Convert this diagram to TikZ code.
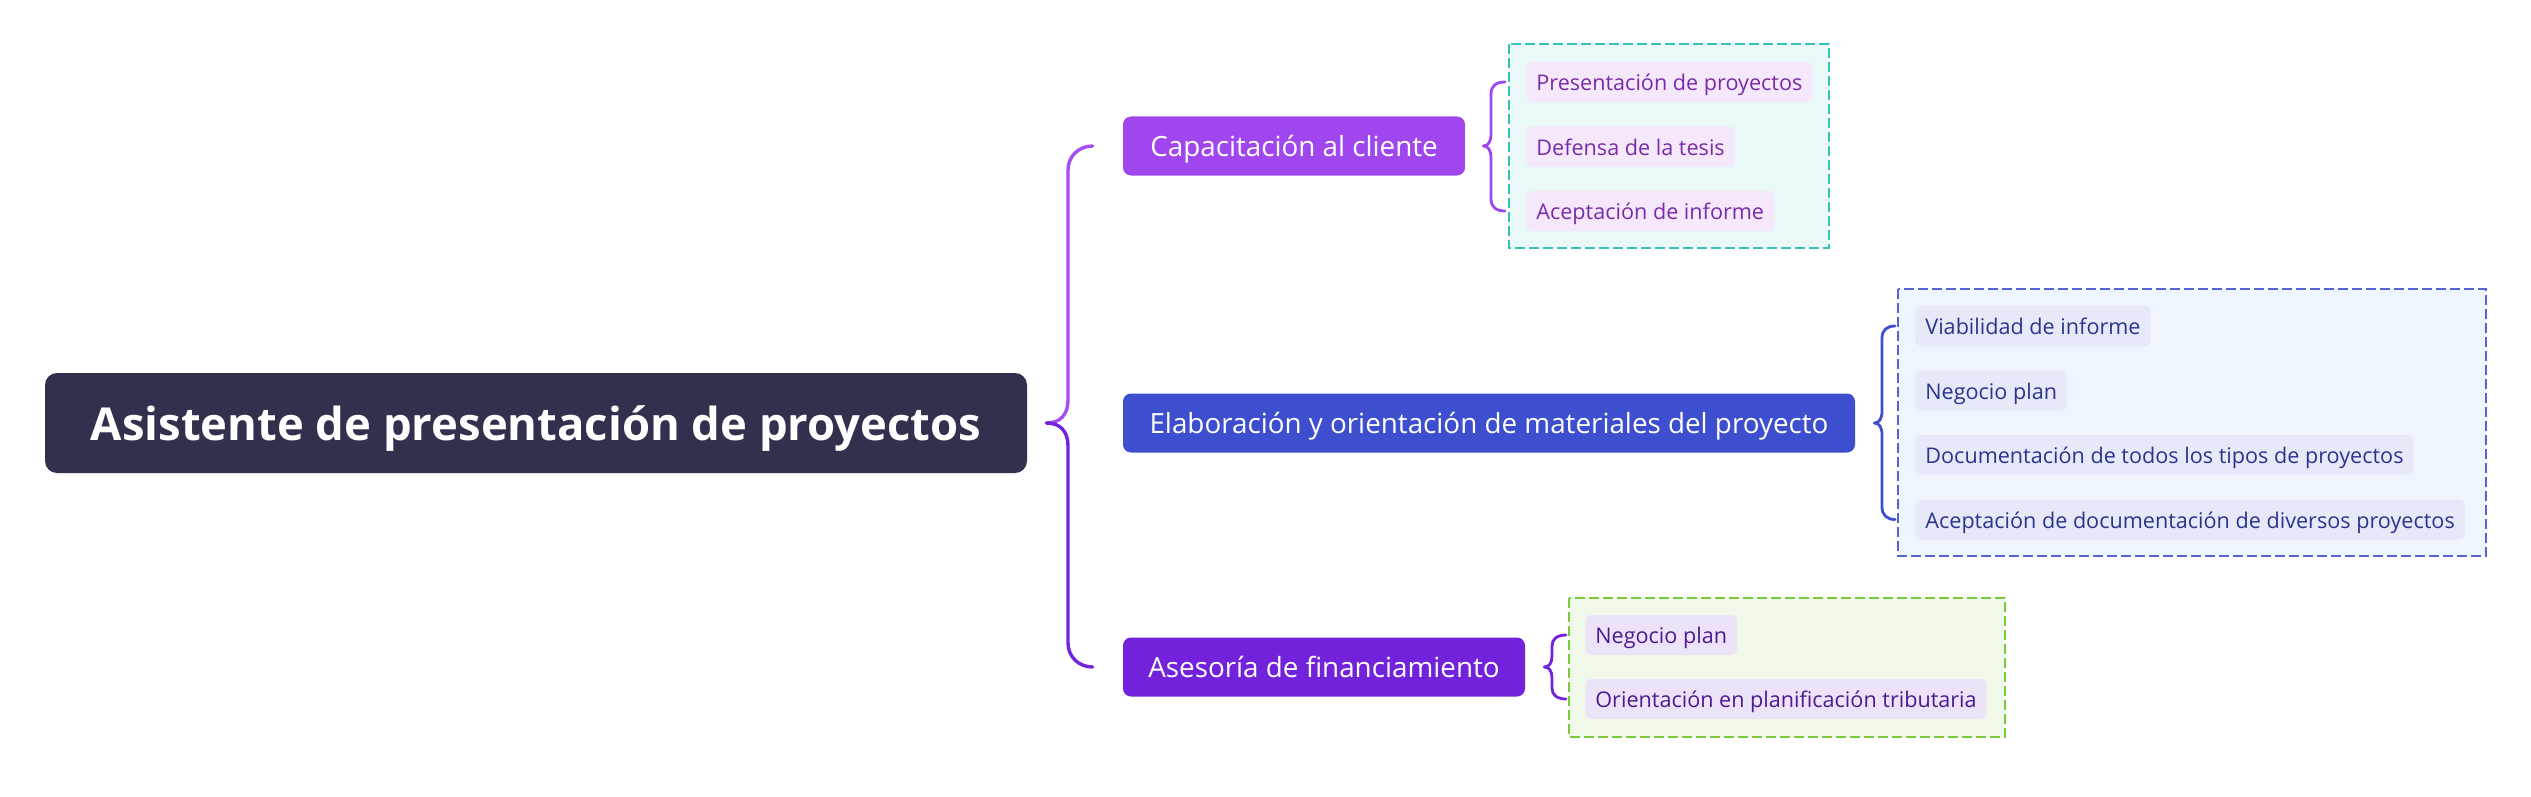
\documentclass[tikz,border=0pt]{standalone}
\usepackage{fontspec}
\setmainfont{Open Sans}
\definecolor{rootc}{HTML}{32314D}
\definecolor{capc}{HTML}{A046EE}
\definecolor{elac}{HTML}{3D4ECF}
\definecolor{asec}{HTML}{7322DC}
\definecolor{brup}{HTML}{A64EF0}
\definecolor{brlo}{HTML}{7424DE}
\definecolor{tealb}{HTML}{36C2B4}
\definecolor{tealf}{HTML}{EAF8F8}
\definecolor{blueb}{HTML}{5563D3}
\definecolor{bluef}{HTML}{EFF5FD}
\definecolor{greenb}{HTML}{7ACB3C}
\definecolor{greenf}{HTML}{F0F8E9}
\definecolor{leafAf}{HTML}{F5E8FB}
\definecolor{leafAt}{HTML}{7A2BA8}
\definecolor{leafBf}{HTML}{E7E9F8}
\definecolor{leafBt}{HTML}{2B3590}
\definecolor{leafCf}{HTML}{ECE3F8}
\definecolor{leafCt}{HTML}{4D1A8F}
\tikzset{
  mainbox/.style={rounded corners=4pt, text=white, inner sep=0pt, minimum height=29.5pt,
    text height=13.2pt, text depth=3pt,
    font=\fontsize{13.9pt}{16pt}\selectfont},
  leafbox/.style={rounded corners=3pt, anchor=west, inner xsep=5pt, inner ysep=0pt,
    minimum height=20pt, text height=11pt, text depth=2.4pt,
    font=\fontsize{10.8pt}{13pt}\selectfont},
  groupbox/.style={dashed, dash pattern=on 5pt off 2pt, line width=1.2pt},
  bracket/.style={line width=1.7pt, line cap=round},
  smallbracket/.style={line width=1.4pt, line cap=round},
}
\begin{document}
\begin{tikzpicture}[x=0.5pt,y=-0.5pt]
\useasboundingbox (0,0) rectangle (2531,797);
\fill[white] (0,0) rectangle (2531,797);

% root
\node[fill=rootc, rounded corners=6pt, text=white, minimum width=491pt, minimum height=50pt,
  inner sep=0pt, text height=22pt, text depth=5pt,
  font=\fontsize{22.7pt}{26pt}\selectfont\bfseries] (root) at (536,423)
  {Asistente de presentación de proyectos};

% main topics
\node[mainbox, fill=capc, minimum width=171pt] (cap) at (1294,146) {Capacitación al cliente};
\node[mainbox, fill=elac, minimum width=366pt] (ela) at (1489,423) {Elaboración y orientación de materiales del proyecto};
\node[mainbox, fill=asec, minimum width=201pt] (ase) at (1324,667) {Asesoría de financiamiento};

% main bracket
\coordinate (mtip) at ([xshift=9.5pt]root.east);
\draw[bracket, brup] (mtip) .. controls (1060,423) and (1068,415) .. (1068,400) -- (1068,170)
  .. controls (1068,156) and (1079,146) .. ([xshift=-15pt]cap.west);
\draw[bracket, brlo] (mtip) .. controls (1060,423) and (1068,431) .. (1068,446) -- (1068,643)
  .. controls (1068,657) and (1079,667) .. ([xshift=-15pt]ase.west);

% group boxes
\draw[groupbox, draw=tealb, fill=tealf] (1509,44) rectangle (1829,248);
\draw[groupbox, draw=blueb, fill=bluef] (1898,289) rectangle (2486,556);
\draw[groupbox, draw=greenb, fill=greenf] (1569,598) rectangle (2005,737);

% leaves group 1
\node[leafbox, fill=leafAf, text=leafAt] (a1) at (1526,82) {Presentación de proyectos};
\node[leafbox, fill=leafAf, text=leafAt] (a2) at (1526,146.5) {Defensa de la tesis};
\node[leafbox, fill=leafAf, text=leafAt] (a3) at (1526,211) {Aceptación de informe};

% leaves group 2
\node[leafbox, fill=leafBf, text=leafBt] (b1) at (1915,326) {Viabilidad de informe};
\node[leafbox, fill=leafBf, text=leafBt] (b2) at (1915,390.5) {Negocio plan};
\node[leafbox, fill=leafBf, text=leafBt] (b3) at (1915,455) {Documentación de todos los tipos de proyectos};
\node[leafbox, fill=leafBf, text=leafBt] (b4) at (1915,519.5) {Aceptación de documentación de diversos proyectos};

% leaves group 3
\node[leafbox, fill=leafCf, text=leafCt] (c1) at (1585,635) {Negocio plan};
\node[leafbox, fill=leafCf, text=leafCt] (c2) at (1585,699) {Orientación en planificación tributaria};

% small bracket 1
\coordinate (t1) at ([xshift=9pt]cap.east);
\draw[smallbracket, capc] (t1) .. controls (1488,146) and (1491,142) .. (1491,134) -- (1491,94)
  .. controls (1491,86) and (1496,82) .. ([xshift=-10.5pt]a1.west);
\draw[smallbracket, capc] (t1) .. controls (1488,146) and (1491,150) .. (1491,158) -- (1491,199)
  .. controls (1491,207) and (1496,211) .. ([xshift=-10.5pt]a3.west);

% small bracket 2
\coordinate (t2) at ([xshift=9.5pt]ela.east);
\draw[smallbracket, elac] (t2) .. controls (1879,423) and (1882,419) .. (1882,411) -- (1882,338)
  .. controls (1882,330) and (1887,326) .. ([xshift=-10pt]b1.west);
\draw[smallbracket, elac] (t2) .. controls (1879,423) and (1882,427) .. (1882,435) -- (1882,507)
  .. controls (1882,515) and (1887,519.5) .. ([xshift=-10pt]b4.west);

% small bracket 3
\coordinate (t3) at ([xshift=9.5pt]ase.east);
\draw[smallbracket, asec] (t3) .. controls (1549,667) and (1552,663) .. (1552,656) -- (1552,646)
  .. controls (1552,639) and (1557,635) .. ([xshift=-9.5pt]c1.west);
\draw[smallbracket, asec] (t3) .. controls (1549,667) and (1552,671) .. (1552,678) -- (1552,688)
  .. controls (1552,695) and (1557,699) .. ([xshift=-9.5pt]c2.west);
\end{tikzpicture}
\end{document}
